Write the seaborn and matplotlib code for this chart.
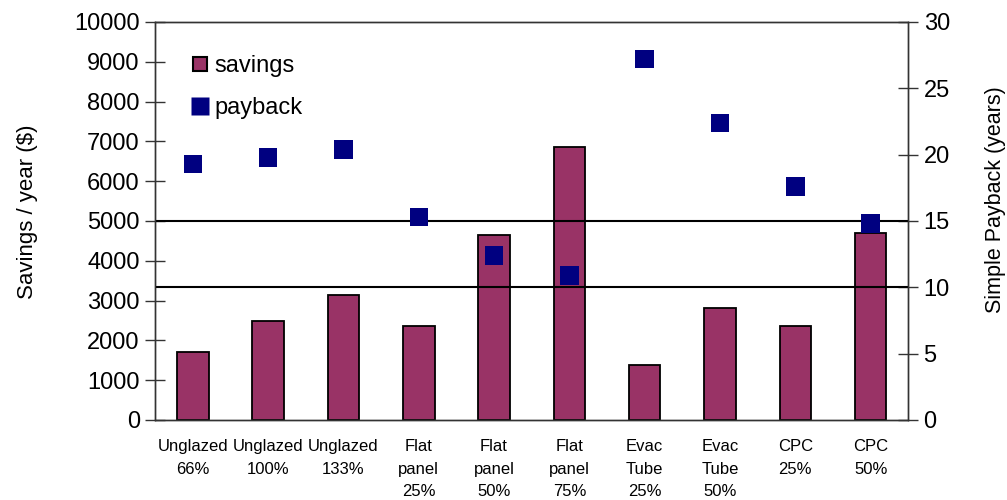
import numpy as np
import pandas as pd
import matplotlib
matplotlib.use("Agg")
import matplotlib.pyplot as plt
from matplotlib.lines import Line2D
from matplotlib.ticker import FixedLocator, NullFormatter
import seaborn as sns

categories = ["Unglazed\n66%", "Unglazed\n100%", "Unglazed\n133%",
              "Flat\npanel\n25%", "Flat\npanel\n50%", "Flat\npanel\n75%",
              "Evac\nTube\n25%", "Evac\nTube\n50%", "CPC\n25%", "CPC\n50%"]
savings = [1720, 2500, 3140, 2360, 4650, 6850, 1380, 2810, 2360, 4700]
payback = [19.3, 19.8, 20.4, 15.3, 12.4, 10.9, 27.2, 22.4, 17.6, 14.8]
savings_ticks = [0, 1000, 2000, 3000, 4000, 5000, 6000, 7000, 8000, 9000, 10000]
payback_ticks = [0, 5, 10, 15, 20, 25, 30]
payback_gridlines = [10, 15]

bar_color = "#993366"
marker_color = "#000080"

sns.set_style("white")
plt.rcParams["font.family"] = ["Liberation Sans", "DejaVu Sans"]
plt.rcParams.update({"text.color": "black", "axes.labelcolor": "black",
                     "xtick.color": "black", "ytick.color": "black"})

df = pd.DataFrame({"pos": np.arange(len(categories)), "savings": savings, "payback": payback})

fig = plt.figure(figsize=(10.07, 5.0), dpi=100)
ax = fig.add_axes([0.154, 0.16, 0.748, 0.796])

sns.barplot(data=df, x="pos", y="savings", ax=ax, native_scale=True, color=bar_color,
            width=0.42, edgecolor="black", linewidth=1.3, saturation=1)

ax.set_xlim(-0.5, len(categories) - 0.5)
ax.set_ylim(0, 10000)
ax.set_yticks(savings_ticks)
ax.set_ylabel("Savings / year ($)", fontsize=16, labelpad=26, y=0.523)
ax.set_xlabel("")

# category boundaries carry the tick marks; labels sit at category centres
ax.xaxis.set_major_locator(FixedLocator(np.arange(len(categories) + 1) - 0.5))
ax.xaxis.set_major_formatter(NullFormatter())
ax.xaxis.set_minor_locator(FixedLocator(np.arange(len(categories))))
ax.set_xticklabels(categories, minor=True, fontsize=12, linespacing=1.6)
ax.tick_params(axis="x", which="major", direction="inout", length=12, width=1, color="#333333")
ax.tick_params(axis="x", which="minor", length=0, pad=14)
ax.tick_params(axis="y", direction="inout", length=14, width=1, color="#333333",
               labelsize=17, pad=4)

ax2 = ax.twinx()
for g in payback_gridlines:
    ax2.axhline(g, color="black", linewidth=1.5, zorder=1)
sns.scatterplot(data=df, x="pos", y="payback", ax=ax2, marker="s", s=175,
                color=marker_color, edgecolor="none", linewidth=0, zorder=3, legend=False)
ax2.set_ylim(0, 30)
ax2.set_yticks(payback_ticks)
ax2.set_ylabel("Simple Payback (years)", fontsize=15.5, labelpad=25, y=0.553)
ax2.tick_params(axis="y", direction="inout", length=14, width=1, color="#333333",
                labelsize=17, pad=4)
ax2.set_xlim(-0.5, len(categories) - 0.5)

for a in (ax, ax2):
    for sp in a.spines.values():
        sp.set_visible(True)
        sp.set_color("#333333")
        sp.set_linewidth(1.0)

handles = [
    Line2D([], [], linestyle="none", marker="s", markersize=10,
           markerfacecolor=bar_color, markeredgecolor="black", markeredgewidth=1.5),
    Line2D([], [], linestyle="none", marker="s", markersize=13,
           markerfacecolor=marker_color, markeredgecolor="none"),
]
ax2.legend(handles, ["savings", "payback"], loc="upper left",
           bbox_to_anchor=(0.035, 0.94), frameon=False, fontsize=17,
           handlelength=0.8, handletextpad=0.2, labelspacing=0.85, borderaxespad=0)

fig.savefig("out.png", dpi=100)
